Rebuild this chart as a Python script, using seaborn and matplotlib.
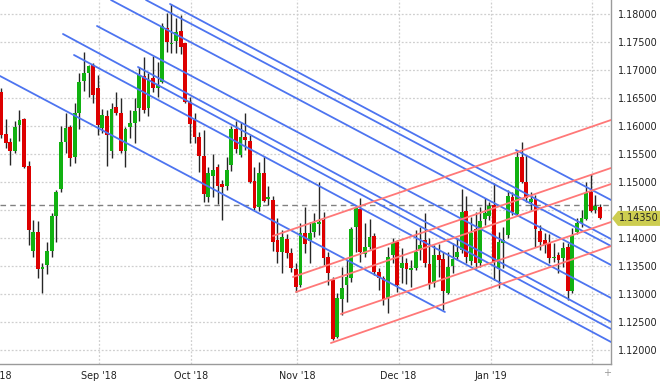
import numpy as np
import pandas as pd
import matplotlib
matplotlib.use("Agg")
import matplotlib.pyplot as plt
from matplotlib.patches import Polygon
import seaborn as sns

sns.set_style("white")
plt.rcParams["font.family"] = ["DejaVu Sans"]

# ---- data (EUR/USD daily candles) ----
open_ = [1.1661, 1.1586, 1.1571, 1.1555, 1.1602, 1.1613, 1.1529, 1.1377, 1.1411, 1.1345,
         1.1352, 1.1377, 1.1439, 1.1488, 1.1571, 1.1598, 1.1545, 1.1623, 1.1680, 1.1695,
         1.1709, 1.1668, 1.1596, 1.1618, 1.1555, 1.1634, 1.1623, 1.1555, 1.1598, 1.1605,
         1.1632, 1.1689, 1.1632, 1.1686, 1.1668, 1.1679, 1.1775, 1.1746, 1.1752, 1.1770,
         1.1748, 1.1643, 1.1611, 1.1580, 1.1546, 1.1473, 1.1511, 1.1527, 1.1496, 1.1493,
         1.1530, 1.1595, 1.1548, 1.1580, 1.1573, 1.1502, 1.1455, 1.1516, 1.1470, 1.1468,
         1.1396, 1.1375, 1.1398, 1.1373, 1.1345, 1.1316, 1.1409, 1.1395, 1.1411, 1.1425,
         1.1432, 1.1366, 1.1325, 1.1223, 1.1291, 1.1316, 1.1329, 1.1420, 1.1452, 1.1371,
         1.1384, 1.1404, 1.1339, 1.1329, 1.1293, 1.1370, 1.1393, 1.1346, 1.1355, 1.1343,
         1.1346, 1.1379, 1.1396, 1.1354, 1.1320, 1.1370, 1.1363, 1.1302, 1.1350, 1.1366,
         1.1379, 1.1448, 1.1359, 1.1416, 1.1355, 1.1434, 1.1439, 1.1459, 1.1345, 1.1391,
         1.1405, 1.1473, 1.1443, 1.1545, 1.1500, 1.1464, 1.1470, 1.1413, 1.1396, 1.1391,
         1.1364, 1.1370, 1.1364, 1.1384, 1.1305, 1.1411, 1.1427, 1.1434, 1.1482, 1.1450,
         1.1455]
high = [1.1668, 1.1613, 1.1579, 1.1609, 1.1629, 1.1614, 1.1538, 1.1432, 1.1430, 1.1355,
        1.1393, 1.1445, 1.1486, 1.1600, 1.1623, 1.1602, 1.1641, 1.1695, 1.1732, 1.1709,
        1.1713, 1.1691, 1.1630, 1.1629, 1.1641, 1.1661, 1.1650, 1.1598, 1.1629, 1.1650,
        1.1705, 1.1723, 1.1695, 1.1725, 1.1714, 1.1784, 1.1802, 1.1818, 1.1793, 1.1798,
        1.1748, 1.1652, 1.1623, 1.1589, 1.1593, 1.1527, 1.1550, 1.1532, 1.1504, 1.1545,
        1.1600, 1.1609, 1.1607, 1.1623, 1.1584, 1.1527, 1.1536, 1.1546, 1.1493, 1.1475,
        1.1436, 1.1414, 1.1407, 1.1382, 1.1355, 1.1427, 1.1455, 1.1429, 1.1445, 1.1500,
        1.1446, 1.1375, 1.1330, 1.1302, 1.1348, 1.1361, 1.1420, 1.1457, 1.1471, 1.1427,
        1.1434, 1.1409, 1.1346, 1.1332, 1.1384, 1.1400, 1.1396, 1.1382, 1.1364, 1.1361,
        1.1414, 1.1420, 1.1445, 1.1400, 1.1388, 1.1389, 1.1375, 1.1375, 1.1391, 1.1400,
        1.1488, 1.1475, 1.1438, 1.1446, 1.1455, 1.1471, 1.1464, 1.1498, 1.1411, 1.1420,
        1.1486, 1.1482, 1.1557, 1.1571, 1.1548, 1.1482, 1.1477, 1.1423, 1.1409, 1.1407,
        1.1391, 1.1375, 1.1393, 1.1391, 1.1418, 1.1436, 1.1450, 1.1500, 1.1514, 1.1477,
        1.1461]
low = [1.1579, 1.1561, 1.1530, 1.1552, 1.1573, 1.1525, 1.1388, 1.1366, 1.1329, 1.1302,
       1.1336, 1.1366, 1.1393, 1.1482, 1.1552, 1.1529, 1.1534, 1.1595, 1.1663, 1.1652,
       1.1641, 1.1584, 1.1588, 1.1529, 1.1543, 1.1620, 1.1552, 1.1527, 1.1579, 1.1570,
       1.1609, 1.1623, 1.1618, 1.1661, 1.1652, 1.1677, 1.1732, 1.1730, 1.1730, 1.1729,
       1.1641, 1.1570, 1.1570, 1.1518, 1.1464, 1.1464, 1.1473, 1.1461, 1.1432, 1.1486,
       1.1520, 1.1552, 1.1545, 1.1557, 1.1498, 1.1450, 1.1448, 1.1465, 1.1459, 1.1377,
       1.1355, 1.1338, 1.1364, 1.1339, 1.1304, 1.1313, 1.1373, 1.1355, 1.1402, 1.1405,
       1.1352, 1.1316, 1.1218, 1.1221, 1.1263, 1.1286, 1.1321, 1.1375, 1.1357, 1.1366,
       1.1380, 1.1334, 1.1307, 1.1280, 1.1266, 1.1355, 1.1304, 1.1320, 1.1318, 1.1313,
       1.1343, 1.1361, 1.1348, 1.1309, 1.1313, 1.1330, 1.1271, 1.1300, 1.1338, 1.1361,
       1.1373, 1.1355, 1.1352, 1.1346, 1.1348, 1.1423, 1.1432, 1.1325, 1.1311, 1.1346,
       1.1400, 1.1441, 1.1439, 1.1498, 1.1464, 1.1450, 1.1384, 1.1379, 1.1373, 1.1355,
       1.1357, 1.1338, 1.1348, 1.1289, 1.1302, 1.1407, 1.1420, 1.1432, 1.1446, 1.1445,
       1.1434]
close = [1.1584, 1.1570, 1.1555, 1.1598, 1.1611, 1.1527, 1.1414, 1.1411, 1.1345, 1.1346,
         1.1377, 1.1439, 1.1482, 1.1571, 1.1596, 1.1543, 1.1623, 1.1679, 1.1695, 1.1707,
         1.1655, 1.1602, 1.1620, 1.1584, 1.1630, 1.1623, 1.1555, 1.1595, 1.1605, 1.1627,
         1.1691, 1.1629, 1.1682, 1.1668, 1.1673, 1.1779, 1.1750, 1.1748, 1.1768, 1.1741,
         1.1643, 1.1604, 1.1580, 1.1546, 1.1479, 1.1516, 1.1521, 1.1493, 1.1491, 1.1521,
         1.1595, 1.1559, 1.1580, 1.1575, 1.1500, 1.1454, 1.1516, 1.1466, 1.1471, 1.1393,
         1.1375, 1.1402, 1.1373, 1.1346, 1.1313, 1.1409, 1.1389, 1.1409, 1.1427, 1.1429,
         1.1364, 1.1338, 1.1220, 1.1293, 1.1311, 1.1330, 1.1416, 1.1454, 1.1375, 1.1384,
         1.1402, 1.1339, 1.1329, 1.1289, 1.1366, 1.1391, 1.1316, 1.1355, 1.1345, 1.1345,
         1.1375, 1.1388, 1.1355, 1.1318, 1.1370, 1.1361, 1.1305, 1.1348, 1.1363, 1.1375,
         1.1446, 1.1366, 1.1409, 1.1355, 1.1430, 1.1445, 1.1457, 1.1357, 1.1393, 1.1396,
         1.1475, 1.1446, 1.1545, 1.1500, 1.1471, 1.1470, 1.1416, 1.1393, 1.1388, 1.1364,
         1.1366, 1.1361, 1.1382, 1.1305, 1.1405, 1.1427, 1.1436, 1.1480, 1.1448, 1.1457,
         1.1435]

month_labels = ["Aug '18", "Sep '18", "Oct '18", "Nov '18", "Dec '18", "Jan '19", "Feb '19"]
y_ticks = [1.120, 1.125, 1.130, 1.135, 1.140, 1.145, 1.150, 1.155, 1.160, 1.165, 1.170, 1.175, 1.180]
last_price = 1.14350
ref_price = 1.14584

# trend lines: (start bar, start price, end bar, end price)
blue_lines = [
    (-0.22, 1.16893, 96.35, 1.12679),
    (13.45, 1.17643, 132.4, 1.12375),
    (15.84, 1.17268, 132.4, 1.12143),
    (29.73, 1.17054, 132.4, 1.12500),
    (20.83, 1.17786, 132.4, 1.12929),
    (23.87, 1.18250, 132.4, 1.13518),
    (31.47, 1.18250, 132.4, 1.13857),
    (36.68, 1.18179, 132.4, 1.13982),
    (111.76, 1.15571, 132.4, 1.14679),
]
red_lines = [
    (59.03, 1.14036, 132.4, 1.16107),
    (63.37, 1.13304, 132.4, 1.15250),
    (64.02, 1.13036, 132.4, 1.14964),
    (73.78, 1.12643, 132.4, 1.14286),
    (71.61, 1.12125, 132.4, 1.13857),
]

# ---- dates (trading days, without Christmas and New Year) ----
days = pd.bdate_range("2018-08-03", "2019-02-05")
days = days[~days.isin(pd.to_datetime(["2018-12-25", "2019-01-01"]))]
n = len(open_)
days = days[:n]
idx = np.arange(n)
df = pd.DataFrame({"date": days, "i": idx, "open": open_, "high": high, "low": low, "close": close})
df["up"] = df["close"] >= df["open"]

W, H = 660, 381
fig = plt.figure(figsize=(W / 100, H / 100), dpi=100)
ax = fig.add_axes([0, 17 / H, 611 / W, 364 / H])
ax.set_facecolor("white")

XMIN, XMAX = -0.22, 132.4
YMIN, YMAX = 1.1175, 1.1825

# grids
grid_kw = dict(color="#cfcfcf", lw=0.9, ls=(0, (1.5, 1.5)), zorder=0)
for yt in y_ticks:
    ax.axhline(yt, **grid_kw)
month_idx = [i for i in range(1, n) if days[i].month != days[i - 1].month]
for mi in month_idx:
    ax.axvline(mi + 0.3, **grid_kw)

# reference dashed price line
ax.axhline(ref_price, color="#808080", lw=1.0, ls=(0, (4, 3)), zorder=1)

# wicks
ax.vlines(df["i"], df["low"], df["high"], color="#262626", lw=1.0, zorder=2)
# bodies
body_bottom = np.minimum(df["open"], df["close"])
body_h = np.maximum(np.abs(df["close"] - df["open"]), 0.00028)
colors = np.where(df["up"], "#11b111", "#dd0000")
ax.bar(df["i"], body_h, bottom=body_bottom, width=0.82, color=colors, edgecolor="none", zorder=3)

# trend lines through seaborn
rows = []
for k, (x0, y0, x1, y1) in enumerate(blue_lines):
    rows += [dict(x=x0, price=y0, line=f"b{k}", kind="blue"), dict(x=x1, price=y1, line=f"b{k}", kind="blue")]
for k, (x0, y0, x1, y1) in enumerate(red_lines):
    rows += [dict(x=x0, price=y0, line=f"r{k}", kind="red"), dict(x=x1, price=y1, line=f"r{k}", kind="red")]
tl = pd.DataFrame(rows)
sns.lineplot(data=tl, x="x", y="price", units="line", estimator=None, hue="kind",
             palette={"blue": "#4d74f0", "red": "#ff7878"}, lw=1.3, legend=False, sort=False,
             ax=ax, zorder=4)

ax.set_xlim(XMIN, XMAX)
ax.set_ylim(YMIN, YMAX)

# axes styling
for s in ["left", "top"]:
    ax.spines[s].set_visible(False)
for s in ["right", "bottom"]:
    ax.spines[s].set_visible(True)
    ax.spines[s].set_color("#9a9a9a")
    ax.spines[s].set_linewidth(1.0)

ax.yaxis.tick_right()
ax.set_yticks(y_ticks)
ax.set_yticklabels([f"{v:.5f}" for v in y_ticks])
ax.tick_params(axis="y", length=0, pad=5, labelsize=6.9, labelcolor="#222222")

shown = month_idx[:-1]
ax.set_xticks([m + 0.3 for m in shown])
ax.set_xticklabels(month_labels[1:len(shown) + 1])
ax.tick_params(axis="x", length=0, pad=5, labelsize=6.9, labelcolor="#222222")
ax.set_xlabel("")
ax.set_ylabel("")

# first month label (Aug '18), cut by the left edge as in the source
ax.annotate(month_labels[0], xy=(-1.7, YMIN), xycoords="data", xytext=(0, -5),
            textcoords="offset points", ha="center", va="top", fontsize=6.9,
            color="#222222", annotation_clip=False)

# last price tag (arrow-shaped box on the price axis)
fig.canvas.draw()
_, ypix = ax.transData.transform((0, last_price))
ytop = ypix + 7.5
ybot = ypix - 7.5
tag = Polygon([(612, ypix), (618, ytop), (660, ytop), (660, ybot), (618, ybot)],
              closed=True, transform=None, facecolor="#cdcd50", edgecolor="none", zorder=5)
fig.patches.append(tag)
fig.text(619 / W, ypix / H, f"{last_price:.5f}", ha="left", va="center",
         fontsize=6.9, color="#222222", zorder=6)

# small corner marker
fig.text(607 / W, 1 - 373 / H, "+", ha="center", va="center", fontsize=7, color="#999999")

fig.savefig("out.png", dpi=100, facecolor="white")
